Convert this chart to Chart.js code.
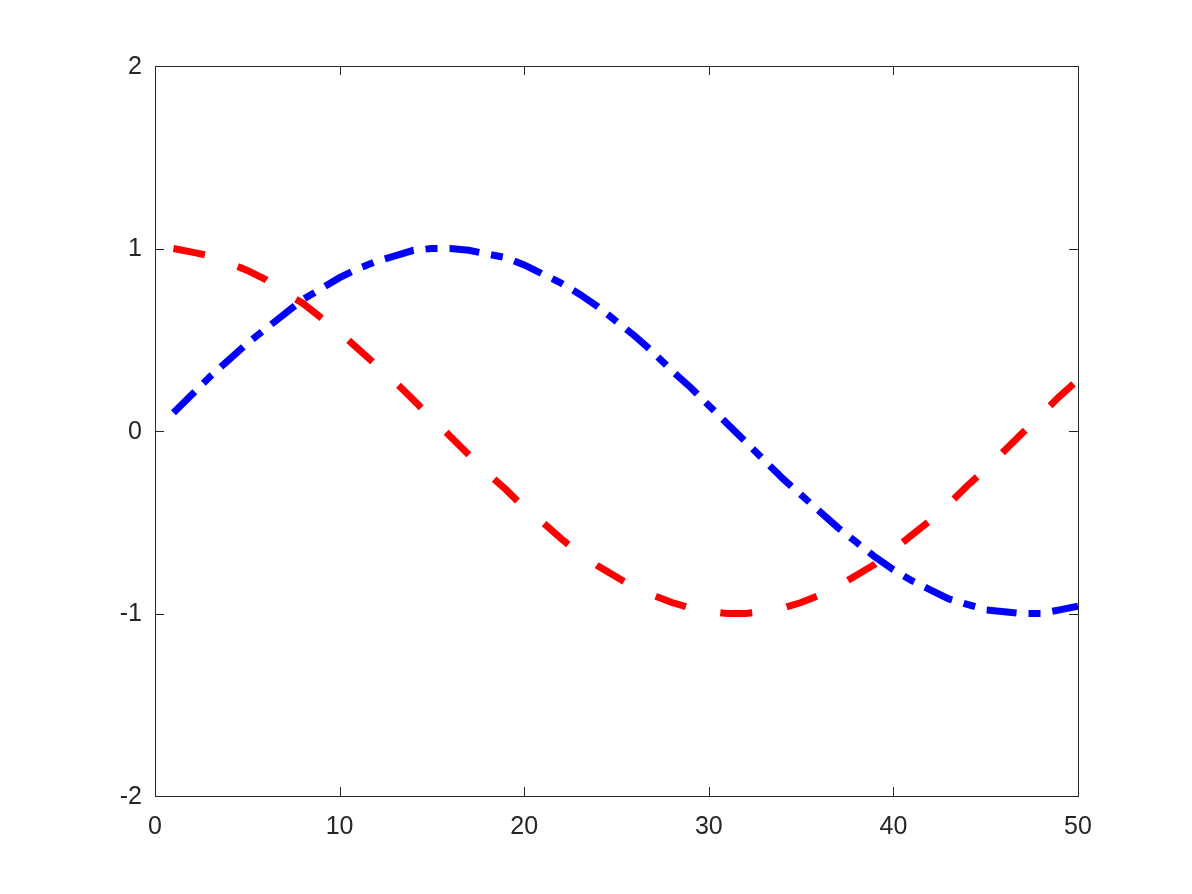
<!DOCTYPE html>
<html>
<head>
<meta charset="utf-8">
<script src="https://cdn.jsdelivr.net/npm/chart.js@4"></script>
<style>
  body { margin: 0; background: #fff; }
  #wrap { width: 1192px; height: 894px; }
</style>
</head>
<body>
<div id="wrap"><canvas id="plot" width="1192" height="894"></canvas></div>
<script>
// values, x = 1..50
const xValues = [1,2,3,4,5,6,7,8,9,10,11,12,13,14,15,16,17,18,19,20,21,22,23,24,25,
  26,27,28,29,30,31,32,33,34,35,36,37,38,39,40,41,42,43,44,45,46,47,48,49,50];
const blueValues = [0.10,0.20,0.30,0.39,0.48,0.56,0.64,0.72,0.78,0.84,0.89,0.93,0.96,0.99,1.00,
  1.00,0.99,0.97,0.95,0.91,0.86,0.81,0.75,0.68,0.60,0.52,0.43,0.33,0.24,0.14,0.04,-0.06,-0.16,
  -0.26,-0.35,-0.44,-0.53,-0.61,-0.69,-0.76,-0.82,-0.87,-0.92,-0.95,-0.98,-0.99,-1.00,-1.00,-0.98,-0.96];
const redValues = [1.00,0.98,0.96,0.92,0.88,0.83,0.76,0.70,0.62,0.54,0.45,0.36,0.27,0.17,0.07,
  -0.03,-0.13,-0.23,-0.32,-0.42,-0.50,-0.59,-0.67,-0.74,-0.80,-0.86,-0.90,-0.94,-0.97,-0.99,-1.00,
  -1.00,-0.99,-0.97,-0.94,-0.90,-0.85,-0.79,-0.73,-0.65,-0.57,-0.49,-0.40,-0.30,-0.21,-0.11,-0.01,
  0.09,0.19,0.28];
const xTicks = [0, 10, 20, 30, 40, 50];
const yTicks = [-2, -1, 0, 1, 2];

const axisColor = '#262626';
const tickFont = '25px "Liberation Sans", Arial, sans-serif';

function toPoints(ys) {
  return xValues.map((x, i) => ({ x: x, y: ys[i] }));
}

// matlab-style box with inward ticks, labels drawn from the scales
const boxAxes = {
  id: 'boxAxes',
  afterDraw(chart) {
    const ctx = chart.ctx;
    const a = chart.chartArea;
    const xs = chart.scales.x;
    const ys = chart.scales.y;
    const len = 9;
    ctx.save();
    ctx.strokeStyle = axisColor;
    ctx.lineWidth = 1;
    ctx.strokeRect(a.left + 0.5, a.top + 0.5, a.right - a.left, a.bottom - a.top);
    ctx.beginPath();
    xTicks.forEach(v => {
      const px = Math.round(xs.getPixelForValue(v)) + 0.5;
      ctx.moveTo(px, a.bottom); ctx.lineTo(px, a.bottom - len);
      ctx.moveTo(px, a.top); ctx.lineTo(px, a.top + len);
    });
    yTicks.forEach(v => {
      const py = Math.round(ys.getPixelForValue(v)) + 0.5;
      ctx.moveTo(a.left, py); ctx.lineTo(a.left + len, py);
      ctx.moveTo(a.right, py); ctx.lineTo(a.right - len, py);
    });
    ctx.stroke();

    ctx.fillStyle = axisColor;
    ctx.font = tickFont;
    ctx.textAlign = 'center';
    ctx.textBaseline = 'middle';
    xTicks.forEach(v => {
      ctx.fillText(String(v), xs.getPixelForValue(v), a.bottom + 31);
    });
    ctx.textAlign = 'right';
    yTicks.forEach(v => {
      ctx.fillText(String(v), a.left - 13, ys.getPixelForValue(v) + 1);
    });
    ctx.restore();
  }
};

new Chart(document.getElementById('plot'), {
  type: 'line',
  data: {
    datasets: [
      {
        label: 'red',
        data: toPoints(redValues),
        borderColor: '#ff0000',
        borderWidth: 7,
        borderDash: [32, 35],
        borderCapStyle: 'butt',
        pointRadius: 0,
        tension: 0
      },
      {
        label: 'blue',
        data: toPoints(blueValues),
        borderColor: '#0000ff',
        borderWidth: 7,
        borderDash: [30, 12, 12, 12],
        borderCapStyle: 'butt',
        pointRadius: 0,
        tension: 0
      }
    ]
  },
  options: {
    responsive: false,
    animation: false,
    layout: { padding: { left: 147, right: 114, top: 66, bottom: 90 } },
    plugins: { legend: { display: false }, tooltip: { enabled: false } },
    scales: {
      x: {
        type: 'linear', min: 0, max: 50,
        ticks: { display: false, stepSize: 10 },
        grid: { display: false }, border: { display: false }
      },
      y: {
        type: 'linear', min: -2, max: 2,
        ticks: { display: false, stepSize: 1 },
        grid: { display: false }, border: { display: false }
      }
    }
  },
  plugins: [boxAxes]
});
</script>
</body>
</html>
